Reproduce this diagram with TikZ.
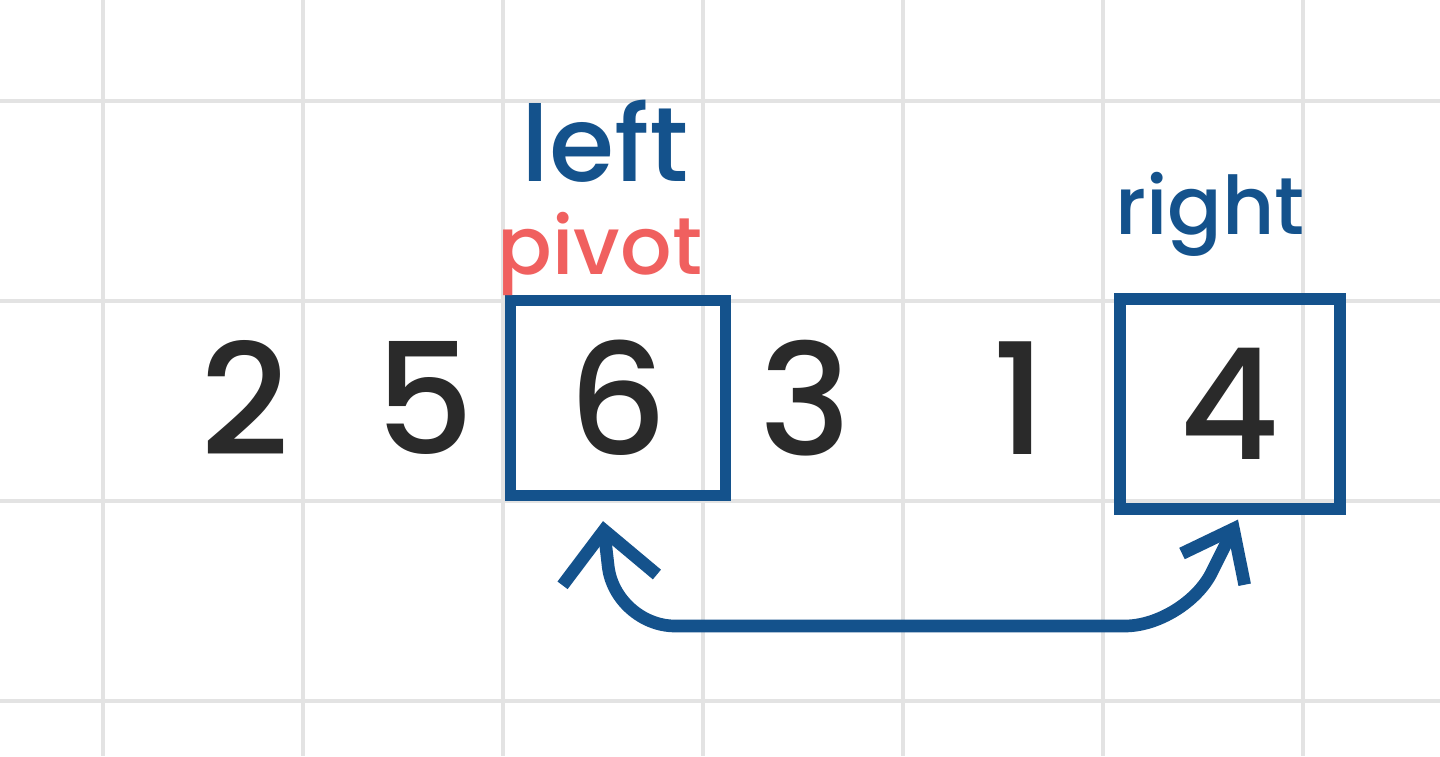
\documentclass[tikz,border=0pt]{standalone}
\usepackage{fontspec}
\setmainfont{Poppins}[BoldFont={Poppins Medium}]
\usetikzlibrary{arrows.meta}
\definecolor{penblue}{HTML}{14528C}
\definecolor{penred}{HTML}{F0605F}
\definecolor{penblack}{HTML}{2A2A2A}
\definecolor{gridgray}{HTML}{E3E3E3}
\begin{document}
\begin{tikzpicture}[
        digit/.style={text=penblack, font=\fontsize{44}{44}\selectfont\bfseries, inner sep=0pt},
        boxed/.style={draw=penblue, line width=3.2pt, minimum width=2.15cm, minimum height=1.95cm},
        tag/.style={font=\fontsize{23}{23}\selectfont\bfseries, inner sep=0pt},
        link/.style={draw=penblue, line width=3.6pt, line cap=round, line join=round,
            {Straight Barb[length=5mm,width=9.5mm]}-{Straight Barb[length=4.5mm,width=7mm]}}]
        \fill[white] (0,0) rectangle (14.4,7.56);
        \useasboundingbox (0,0) rectangle (14.4,7.56);
        \foreach \x in {1.03,3.03,5.03,7.03,9.03,11.03,13.03}
            \draw[gridgray, line width=1.4pt] (\x,0) -- (\x,7.56);
        \foreach \y in {6.55,4.55,2.55,0.55}
            \draw[gridgray, line width=1.4pt] (0,\y) -- (14.4,\y);

        \node[digit] (n2) at (2.45,3.58) {2};
        \node[digit] (n5) at (4.25,3.58) {5};
        \node[digit, boxed] (n6) at (6.18,3.58) {6};
        \node[digit] (n3) at (8.05,3.58) {3};
        \node[digit] (n1) at (10.2,3.58) {1};
        \node[digit, boxed, minimum width=2.2cm, minimum height=2.1cm] (n4) at (12.3,3.52) {4};

        \node[tag, text=penblue, font=\fontsize{30}{30}\selectfont\bfseries] (left) at (6.05,6.15) {left};
        \node[tag, text=penred] (pivot) at (6.0,5.02) {pivot};
        \node[tag, text=penblue] (right) at (12.1,5.42) {right};

        \draw[link, rounded corners=6mm] ([xshift=-1.5mm,yshift=-2mm]n6.south) -- (6.15,1.3) -- (11.85,1.3) -- ([xshift=0.8mm,yshift=-0.5mm]n4.south);
    \end{tikzpicture}
\end{document}
